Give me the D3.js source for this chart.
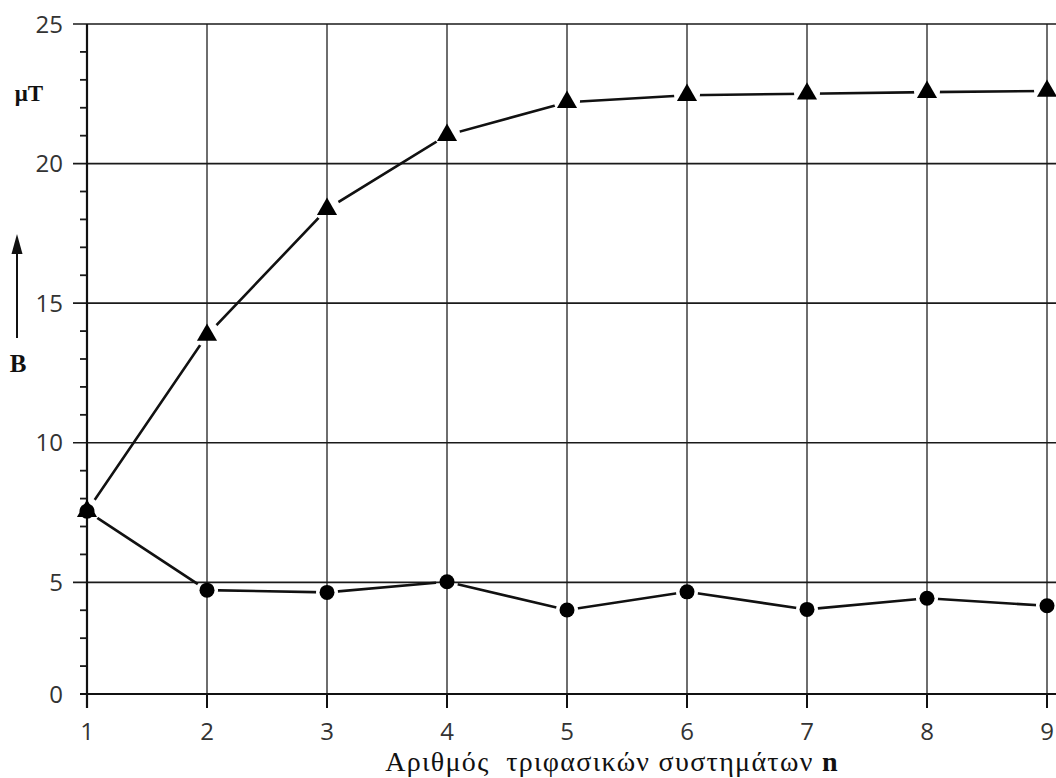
<!DOCTYPE html>
<html>
<head>
<meta charset="utf-8">
<script src="https://cdn.jsdelivr.net/npm/d3@7"></script>
<style>
  html, body { margin: 0; padding: 0; background: #fff; }
  svg { display: block; }
</style>
</head>
<body>
<svg id="chart" width="1056" height="778"></svg>
<script>
// ---- data ----
const nValues = [1, 2, 3, 4, 5, 6, 7, 8, 9];
const triangleSeries = [7.55, 13.86, 18.37, 21.02, 22.2, 22.45, 22.5, 22.56, 22.6];
const circleSeries = [7.55, 4.72, 4.64, 5.02, 4.01, 4.66, 4.03, 4.43, 4.16];
const yTickValues = [1, 5, 10, 15, 20, 25];
const yTickLabels = ["0", "5", "10", "15", "20", "25"];
const yMinorValues = [2, 3, 4, 6, 7, 8, 9, 11, 12, 13, 14, 16, 17, 18, 19, 21, 22, 23, 24];
const xTickLabels = ["1", "2", "3", "4", "5", "6", "7", "8", "9"];
const xTitle = "Αριθμός  τριφασικών συστημάτων ";
const xTitleBold = "n";
const unitLabel = "μT";
const quantityLabel = "B";

// ---- layout ----
const svg = d3.select("#chart");
const x = d3.scaleLinear().domain([1, 9]).range([87, 1047]);
const y = d3.scaleLinear().domain([1, 25]).range([694, 24]);
const W = 1056;

// vertical gridlines
svg.append("g").selectAll("line").data(nValues.slice(1)).join("line")
  .attr("x1", d => x(d)).attr("x2", d => x(d))
  .attr("y1", y(25)).attr("y2", y(1) + 14)
  .attr("stroke", "#4a4a4a").attr("stroke-width", 1.6);

// horizontal gridlines (major)
svg.append("g").selectAll("line").data(yTickValues.slice(1)).join("line")
  .attr("x1", x(1) - 14).attr("x2", W)
  .attr("y1", d => y(d)).attr("y2", d => y(d))
  .attr("stroke", "#1a1a1a").attr("stroke-width", 1.6);

// minor y ticks
svg.append("g").selectAll("line").data(yMinorValues).join("line")
  .attr("x1", x(1) - 7).attr("x2", x(1))
  .attr("y1", d => y(d)).attr("y2", d => y(d))
  .attr("stroke", "#1a1a1a").attr("stroke-width", 1.8);

// x axis baseline
svg.append("line")
  .attr("x1", x(1) - 7).attr("x2", W)
  .attr("y1", y(1)).attr("y2", y(1))
  .attr("stroke", "#111").attr("stroke-width", 2.2);

// y axis line
svg.append("line")
  .attr("x1", x(1)).attr("x2", x(1))
  .attr("y1", y(25)).attr("y2", y(1) + 14)
  .attr("stroke", "#111").attr("stroke-width", 2.2);

// x ticks
svg.append("g").selectAll("line").data(nValues).join("line")
  .attr("x1", d => x(d)).attr("x2", d => x(d))
  .attr("y1", y(1)).attr("y2", y(1) + 14)
  .attr("stroke", "#111").attr("stroke-width", 2);

// y tick labels
svg.append("g").selectAll("text").data(yTickValues).join("text")
  .attr("x", x(1) - 24).attr("y", d => y(d))
  .attr("dy", "0.36em")
  .attr("text-anchor", "end")
  .attr("font-family", "'Open Sans', sans-serif")
  .attr("font-size", 24)
  .attr("fill", "#333")
  .text((d, i) => yTickLabels[i]);

// x tick labels
svg.append("g").selectAll("text").data(nValues).join("text")
  .attr("x", d => x(d)).attr("y", 740)
  .attr("text-anchor", "middle")
  .attr("font-family", "'Open Sans', sans-serif")
  .attr("font-size", 24)
  .attr("fill", "#333")
  .text((d, i) => xTickLabels[i]);

// x title
const xt = svg.append("text")
  .attr("x", 612).attr("y", 771)
  .attr("text-anchor", "middle")
  .attr("font-family", "'Liberation Serif', 'Times New Roman', serif")
  .attr("font-size", 28)
  .attr("letter-spacing", 1.3)
  .attr("fill", "#111")
  .attr("xml:space", "preserve");
xt.append("tspan").text(xTitle);
xt.append("tspan").attr("font-weight", "bold").text(xTitleBold);

// unit label and B with arrow
svg.append("text")
  .attr("x", 29).attr("y", 101)
  .attr("text-anchor", "middle")
  .attr("font-family", "'Liberation Serif', 'Times New Roman', serif")
  .attr("font-weight", "bold")
  .attr("font-size", 23)
  .attr("fill", "#111")
  .text(unitLabel);

svg.append("text")
  .attr("x", 18).attr("y", 372)
  .attr("text-anchor", "middle")
  .attr("font-family", "'Liberation Serif', 'Times New Roman', serif")
  .attr("font-weight", "bold")
  .attr("font-size", 25)
  .attr("fill", "#111")
  .text(quantityLabel);

svg.append("line")
  .attr("x1", 17).attr("x2", 17).attr("y1", 338).attr("y2", 250)
  .attr("stroke", "#111").attr("stroke-width", 2);
svg.append("path")
  .attr("d", "M17,234 L11.5,254 L22.5,254 Z")
  .attr("fill", "#111");

// ---- data lines with gaps around markers ----
const tri = nValues.map((n, i) => ({ n, v: triangleSeries[i] }));
const cir = nValues.map((n, i) => ({ n, v: circleSeries[i] }));

const defs = svg.append("defs");
const mask = defs.append("mask").attr("id", "gapMask").attr("maskUnits", "userSpaceOnUse")
  .attr("x", 0).attr("y", 0).attr("width", W).attr("height", 778);
mask.append("rect").attr("x", 0).attr("y", 0).attr("width", W).attr("height", 778).attr("fill", "#fff");
mask.selectAll("circle.t").data(tri).join("circle").attr("class", "t")
  .attr("cx", d => x(d.n)).attr("cy", d => y(d.v) - 1).attr("r", 13).attr("fill", "#000");
mask.selectAll("circle.c").data(cir).join("circle").attr("class", "c")
  .attr("cx", d => x(d.n)).attr("cy", d => y(d.v)).attr("r", 11).attr("fill", "#000");

const line = d3.line().x(d => x(d.n)).y(d => y(d.v));
const lines = svg.append("g").attr("mask", "url(#gapMask)");
lines.append("path").datum(tri).attr("d", line)
  .attr("fill", "none").attr("stroke", "#111").attr("stroke-width", 2.6);
lines.append("path").datum(cir).attr("d", line)
  .attr("fill", "none").attr("stroke", "#111").attr("stroke-width", 2.6);

// markers
const triSym = d3.symbol().type(d3.symbolTriangle).size(175);
svg.append("g").selectAll("path").data(tri).join("path")
  .attr("transform", d => `translate(${x(d.n)},${y(d.v)})`)
  .attr("d", triSym)
  .attr("fill", "#000");

svg.append("g").selectAll("circle").data(cir).join("circle")
  .attr("cx", d => x(d.n)).attr("cy", d => y(d.v)).attr("r", 7.5)
  .attr("fill", "#000");
</script>
</body>
</html>
